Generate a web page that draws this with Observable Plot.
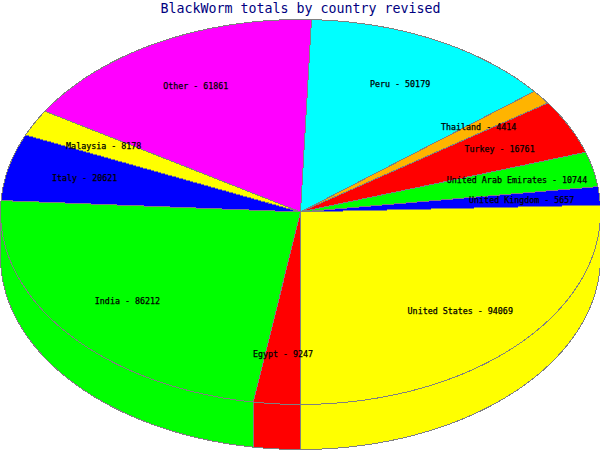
<!DOCTYPE html>
<html>
<head>
<meta charset="utf-8">
<script src="https://cdn.jsdelivr.net/npm/d3@7"></script>
<script src="https://cdn.jsdelivr.net/npm/@observablehq/plot@0.6"></script>
<style>
html,body{margin:0;padding:0;background:#fff}
svg{display:block}
.crisp path{shape-rendering:crispEdges}
</style>
</head>
<body>
<div id="chart"></div>
<script>
const chartTitle = "BlackWorm totals by country revised";
const countries = ["United States","United Kingdom","United Arab Emirates","Turkey","Thailand","Peru","Other","Malaysia","Italy","India","Egypt"];
const totals = [94069,5657,10744,16761,4414,50179,61861,8178,20621,86212,9247];
const colors = ["#ffff00","#0000ff","#00ff00","#ff0000","#ffb400","#00ffff","#ff00ff","#ffff00","#0000ff","#00ff00","#ff0000"];

const depth = 0.234, labelRadius = 0.74, step = Math.PI / 180;
const arcs = d3.pie().sort(null).value(d => d)(totals);
const pt = (a, r = 1, dy = 0) => ({x: r * Math.sin(a), y: r * Math.cos(a) + dy});
const arcPts = (a0, a1, dy = 0) => {
  const n = Math.max(1, Math.ceil((a1 - a0) / step));
  return d3.range(n + 1).map(i => pt(a0 + (a1 - a0) * i / n, 1, dy));
};

const tops = [], walls = [], labels = [];
arcs.forEach((arc, i) => {
  const country = countries[i];
  const ring = [{x: 0, y: 0}, ...arcPts(arc.startAngle, arc.endAngle), {x: 0, y: 0}];
  ring.forEach(p => tops.push({...p, country}));
  // front wall: only the part of the slice on the near half of the ellipse
  [[0, Math.PI / 2], [1.5 * Math.PI, 2 * Math.PI]].forEach(([lo, hi], k) => {
    const a0 = Math.max(arc.startAngle, lo), a1 = Math.min(arc.endAngle, hi);
    if (a1 > a0) {
      const wall = [...arcPts(a0, a1), ...arcPts(a0, a1, depth).reverse()];
      wall.push(wall[0]);
      wall.forEach(p => walls.push({...p, country, part: country + k}));
    }
  });
  const mid = pt((arc.startAngle + arc.endAngle) / 2, labelRadius);
  labels.push({...mid, text: `${country} - ${totals[i]}`});
});

const chart = Plot.plot({
  width: 600, height: 450,
  margin: 0,
  className: "crisp",
  x: {domain: [-1, 1], range: [0, 600], axis: null},
  y: {domain: [-1, 1 + depth], range: [19, 449], axis: null},
  color: {domain: countries, range: colors, type: "ordinal"},
  marks: [
    Plot.line(walls, {x: "x", y: "y", z: "part", fill: "country", stroke: "#808080", strokeWidth: 1, curve: "linear"}),
    Plot.line(tops, {x: "x", y: "y", z: "country", fill: "country", stroke: "#808080", strokeWidth: 1, curve: "linear"}),
    Plot.text(labels, {x: "x", y: "y", text: "text", fill: "#000", stroke: "#000", strokeWidth: 0.25, fontSize: 8.33, fontFamily: "'DejaVu Sans Mono', monospace", textAnchor: "middle"}),
    Plot.text([chartTitle], {frameAnchor: "top", dy: 8, fill: "#000080", fontSize: 13.3, fontFamily: "'DejaVu Sans Mono', monospace", lineAnchor: "middle"})
  ]
});
document.getElementById("chart").append(chart);
</script>
</body>
</html>
